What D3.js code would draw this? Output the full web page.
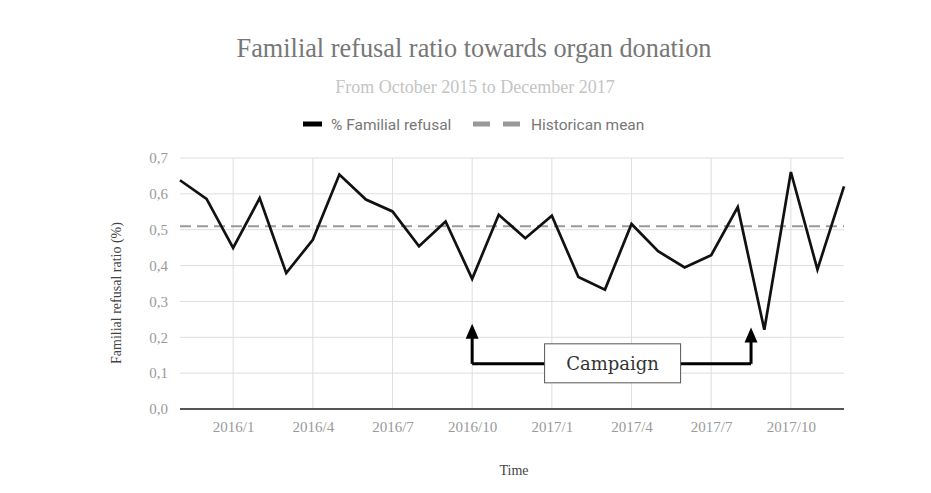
<!DOCTYPE html>
<html>
<head>
<meta charset="utf-8">
<script src="https://cdn.jsdelivr.net/npm/d3@7"></script>
<style>
  body { margin: 0; background: #fff; }
  svg { display: block; }
</style>
</head>
<body>
<div id="chart"></div>
<script>
// monthly values, Nov 2015 .. Dec 2017
var months = ["2015/11","2015/12","2016/1","2016/2","2016/3","2016/4","2016/5","2016/6",
  "2016/7","2016/8","2016/9","2016/10","2016/11","2016/12","2017/1","2017/2","2017/3",
  "2017/4","2017/5","2017/6","2017/7","2017/8","2017/9","2017/10","2017/11","2017/12"];
var refusal = [0.638,0.586,0.449,0.588,0.379,0.472,0.654,0.584,0.551,0.454,0.523,0.363,
  0.542,0.476,0.539,0.368,0.333,0.516,0.44,0.395,0.429,0.563,0.221,0.661,0.389,0.621];
var historicMean = 0.51;
var xTicks = ["2016/1","2016/4","2016/7","2016/10","2017/1","2017/4","2017/7","2017/10"];
var yTicks = [0,0.1,0.2,0.3,0.4,0.5,0.6,0.7];
// campaign annotation: from 2016/10 to mid Aug 2017
var campaignStart = "2016/10", campaignEnd = ["2017/8","2017/9"];

var W = 931, H = 493;
var margin = {left: 180, right: 87, top: 158, bottom: 84};

var svg = d3.select("#chart").append("svg").attr("width", W).attr("height", H);

var x = d3.scalePoint().domain(months).range([margin.left, W - margin.right]);
var y = d3.scaleLinear().domain([0, 0.7]).range([H - margin.bottom, margin.top]);
var fmt = function(d){ return d3.format(".1f")(d).replace(".", ","); };

var serif = "'Liberation Serif', 'Times New Roman', serif";

// grid
svg.append("g").selectAll("line").data(yTicks.slice(1)).enter().append("line")
  .attr("x1", margin.left).attr("x2", W - margin.right)
  .attr("y1", function(d){ return y(d); }).attr("y2", function(d){ return y(d); })
  .attr("stroke", "#dedede").attr("stroke-width", 1);
svg.append("g").selectAll("line").data(xTicks).enter().append("line")
  .attr("x1", function(d){ return x(d); }).attr("x2", function(d){ return x(d); })
  .attr("y1", y(0.7)).attr("y2", y(0))
  .attr("stroke", "#dedede").attr("stroke-width", 1);

// y axis labels
var yAxis = svg.append("g").attr("transform", "translate(" + (margin.left - 12) + ",0)")
  .call(d3.axisLeft(y).tickValues(yTicks).tickFormat(fmt).tickSize(0).tickPadding(0));
yAxis.select(".domain").remove();
yAxis.selectAll("text").style("font-family", serif).style("font-size", "15px").attr("fill", "#9a9a9a");

// x axis labels
var xAxis = svg.append("g").attr("transform", "translate(0," + y(0) + ")")
  .call(d3.axisBottom(x).tickValues(xTicks).tickSize(0).tickPadding(12));
xAxis.select(".domain").remove();
xAxis.selectAll("text").style("font-family", serif).style("font-size", "15px").attr("fill", "#9a9a9a");

// baseline
svg.append("line").attr("x1", margin.left).attr("x2", W - margin.right)
  .attr("y1", y(0)).attr("y2", y(0)).attr("stroke", "#555").attr("stroke-width", 2);

// historic mean
svg.append("line").attr("x1", margin.left).attr("x2", W - margin.right)
  .attr("y1", y(historicMean)).attr("y2", y(historicMean))
  .attr("stroke", "#999").attr("stroke-width", 2).attr("stroke-dasharray", "11,6");

// series
var line = d3.line().x(function(d, i){ return x(months[i]); }).y(function(d){ return y(d); });
svg.append("path").datum(refusal).attr("d", line)
  .attr("fill", "none").attr("stroke", "#111").attr("stroke-width", 2.7)
  .attr("stroke-linejoin", "miter");

// campaign annotation
var xa = x(campaignStart);
var xb = (x(campaignEnd[0]) + x(campaignEnd[1])) / 2;
var yLine = y(0.126);
var ann = svg.append("g");
function arrow(px, tip){
  ann.append("path").attr("d", "M" + px + "," + yLine + "V" + (y(tip) + 14))
    .attr("stroke", "#000").attr("stroke-width", 3).attr("fill", "none");
  ann.append("path").attr("d", "M" + (px - 6.5) + "," + (y(tip) + 15) + "L" + px + "," + y(tip) +
      "L" + (px + 6.5) + "," + (y(tip) + 15) + "Z").attr("fill", "#000");
}
ann.append("path").attr("d", "M" + xa + "," + yLine + "H" + xb)
  .attr("stroke", "#000").attr("stroke-width", 3).attr("fill", "none");
arrow(xa, 0.238);
arrow(xb, 0.227);
var bx = (xa + xb) / 2 + 1;
ann.append("rect").attr("x", bx - 68).attr("y", yLine - 20).attr("width", 136).attr("height", 39)
  .attr("fill", "#fff").attr("stroke", "#555").attr("stroke-width", 1);
ann.append("text").attr("x", bx).attr("y", yLine + 6).attr("text-anchor", "middle")
  .style("font-family", "'DejaVu Serif', serif").style("font-size", "18px")
  .attr("fill", "#333").text("Campaign");

// titles
svg.append("text").attr("x", 474).attr("y", 57).attr("text-anchor", "middle")
  .style("font-family", serif).style("font-size", "26.3px").attr("fill", "#777")
  .text("Familial refusal ratio towards organ donation");
svg.append("text").attr("x", 475).attr("y", 93).attr("text-anchor", "middle")
  .style("font-family", serif).style("font-size", "18px").attr("fill", "#c4c4c4")
  .text("From October 2015 to December 2017");

// axis titles
svg.append("text").attr("transform", "translate(121,293) rotate(-90)").attr("text-anchor", "middle")
  .style("font-family", serif).style("font-size", "14px").attr("fill", "#444")
  .text("Familial refusal ratio (%)");
svg.append("text").attr("x", 514).attr("y", 475).attr("text-anchor", "middle")
  .style("font-family", serif).style("font-size", "14px").attr("fill", "#444")
  .text("Time");

// legend
var legend = svg.append("g").style("font-family", "Roboto, sans-serif").style("font-size", "15.5px");
legend.append("line").attr("x1", 303).attr("x2", 322).attr("y1", 124).attr("y2", 124)
  .attr("stroke", "#000").attr("stroke-width", 5);
legend.append("text").attr("x", 331).attr("y", 129.5).attr("fill", "#777").text("% Familial refusal");
legend.append("line").attr("x1", 473).attr("x2", 520).attr("y1", 124).attr("y2", 124)
  .attr("stroke", "#999").attr("stroke-width", 5).attr("stroke-dasharray", "17,13");
legend.append("text").attr("x", 531).attr("y", 129.5).attr("fill", "#777").text("Historican mean");
</script>
</body>
</html>
